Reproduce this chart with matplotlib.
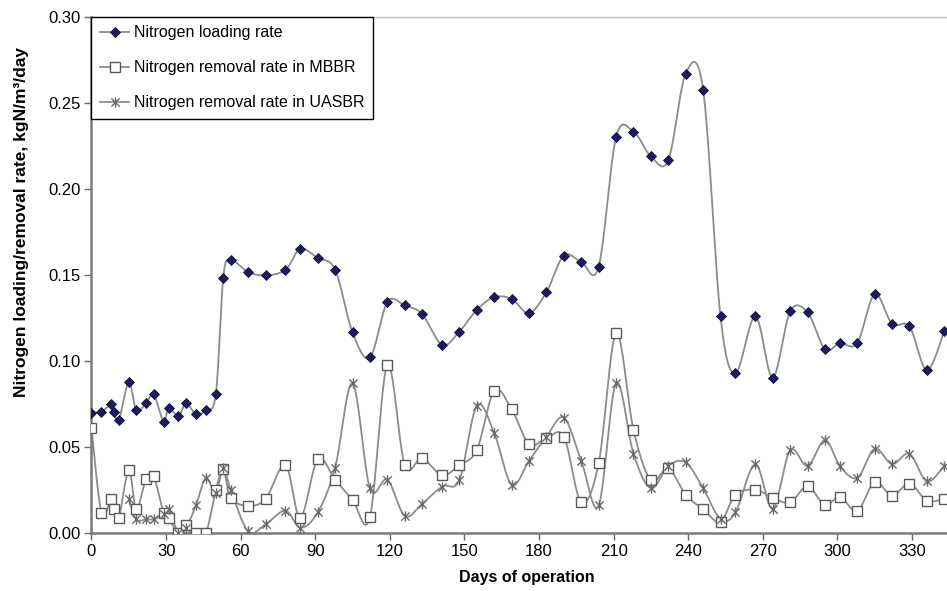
import numpy as np
import matplotlib
matplotlib.use("Agg")
import matplotlib.pyplot as plt
from matplotlib.path import Path
from matplotlib.lines import Line2D

plt.rcParams['font.family'] = ['Liberation Sans', 'DejaVu Sans']

# ---------------- data ----------------
days_load = [0, 4, 8, 9, 11, 15, 18, 22, 25, 29, 31, 35, 38, 42, 46, 50, 53, 56, 63, 70,
             78, 84, 91, 98, 105, 112, 119, 126, 133, 141, 148, 155, 162, 169, 176, 183, 190,
             197, 204, 211, 218, 225, 232, 239, 246, 253, 259, 267, 274, 281, 288, 295, 301,
             308, 315, 322, 329, 336, 343]
load_rate = [0.070, 0.0705, 0.0748, 0.0705, 0.0657, 0.0876, 0.0715, 0.0754, 0.0806, 0.0647,
             0.0725, 0.068, 0.0754, 0.069, 0.0715, 0.0806, 0.1484, 0.1585, 0.1517, 0.1496,
             0.1529, 0.165, 0.1597, 0.1529, 0.1165, 0.102, 0.1341, 0.1322, 0.1271, 0.1093,
             0.117, 0.1297, 0.137, 0.1359, 0.1277, 0.140, 0.1612, 0.1574, 0.1547, 0.230,
             0.2331, 0.2188, 0.2165, 0.2669, 0.2576, 0.1258, 0.0928, 0.1258, 0.0903, 0.1287,
             0.1281, 0.1068, 0.1103, 0.1103, 0.1388, 0.1215, 0.120, 0.0946, 0.1174]

days_mbbr = [0, 4, 8, 9, 11, 15, 18, 22, 25, 29, 31, 35, 38, 42, 46, 50, 53, 56, 63, 70,
             78, 84, 91, 98, 105, 112, 119, 126, 133, 141, 148, 155, 162, 169, 176, 183, 190,
             197, 204, 211, 218, 225, 232, 239, 246, 253, 259, 267, 274, 281, 288, 295, 301,
             308, 315, 322, 329, 336, 343]
mbbr_rate = [0.061, 0.0119, 0.0198, 0.0138, 0.0089, 0.0366, 0.0138, 0.0316, 0.033, 0.0119,
             0.0085, 0.0, 0.0045, 0.0, 0.0, 0.0247, 0.037, 0.0204, 0.0158, 0.0198,
             0.0395, 0.0089, 0.0429, 0.031, 0.0192, 0.0093, 0.0977, 0.0395, 0.0434, 0.0336,
             0.0395, 0.0483, 0.0827, 0.0719, 0.0516, 0.055, 0.056, 0.0178, 0.0405, 0.116,
             0.0599, 0.0306, 0.0375, 0.0223, 0.0138, 0.0065, 0.0223, 0.0251, 0.0204, 0.0178,
             0.0271, 0.0162, 0.0211, 0.0128, 0.0296, 0.0217, 0.0287, 0.0188, 0.0198]

days_uasbr = [15, 18, 22, 25, 29, 31, 35, 38, 42, 46, 50, 53, 56, 63, 70,
              78, 84, 91, 98, 105, 112, 119, 126, 133, 141, 148, 155, 162, 169, 176, 183, 190,
              197, 204, 211, 218, 225, 232, 239, 246, 253, 259, 267, 274, 281, 288, 295, 301,
              308, 315, 322, 329, 336, 343]
uasbr_rate = [0.020, 0.008, 0.008, 0.008, 0.011, 0.014, 0.0, 0.003, 0.016, 0.032,
              0.023, 0.038, 0.025, 0.001, 0.005, 0.013, 0.003, 0.012, 0.038, 0.087,
              0.026, 0.031, 0.010, 0.017, 0.027, 0.031, 0.074, 0.058, 0.028, 0.042,
              0.056, 0.067, 0.042, 0.016, 0.087, 0.046, 0.026, 0.039, 0.041, 0.026,
              0.008, 0.012, 0.040, 0.014, 0.048, 0.039, 0.054, 0.039, 0.032, 0.049,
              0.040, 0.046, 0.030, 0.039]

x_ticks = [0, 30, 60, 90, 120, 150, 180, 210, 240, 270, 300, 330]
y_ticks = [0.00, 0.05, 0.10, 0.15, 0.20, 0.25, 0.30]

labels = ["Nitrogen loading rate",
          "Nitrogen removal rate in MBBR",
          "Nitrogen removal rate in UASBR"]


def smooth(x, y, n=24):
    """Excel-like smoothed line (uniform Catmull-Rom as cubic Bezier)."""
    P = np.column_stack([np.asarray(x, float), np.asarray(y, float)])
    E = np.vstack([P[0], P, P[-1]])
    t = np.linspace(0, 1, n, endpoint=False)[:, None]
    segs = []
    for i in range(len(P) - 1):
        p0, p1, p2, p3 = E[i], E[i + 1], E[i + 2], E[i + 3]
        c1 = p1 + (p2 - p0) / 6.0
        c2 = p2 - (p3 - p1) / 6.0
        b = ((1 - t) ** 3) * p1 + 3 * (1 - t) ** 2 * t * c1 + 3 * (1 - t) * t ** 2 * c2 + t ** 3 * p2
        segs.append(b)
    segs.append(P[-1][None, :])
    A = np.vstack(segs)
    return A[:, 0], A[:, 1]


star = Path([(-1, -1), (1, 1), (-1, 1), (1, -1), (0, -1.25), (0, 1.25)],
            [Path.MOVETO, Path.LINETO, Path.MOVETO, Path.LINETO, Path.MOVETO, Path.LINETO])

line_col = '#8c8c8c'
navy = '#1b1b5e'

fig = plt.figure(figsize=(9.47, 5.91), dpi=100)
ax = fig.add_axes([0.0966, 0.0981, 0.9034, 0.8739])

# smoothed lines
for xs, ys in [(days_load, load_rate), (days_mbbr, mbbr_rate), (days_uasbr, uasbr_rate)]:
    sx, sy = smooth(xs, ys)
    ax.plot(sx, sy, color=line_col, lw=1.3, zorder=2)

# markers
ax.plot(days_load, load_rate, ls='none', marker='D', ms=5.2, mfc=navy, mec='#101040',
        mew=0.6, zorder=4)
ax.plot(days_mbbr, mbbr_rate, ls='none', marker='s', ms=7.0, mfc='white', mec='#5a5a5a',
        mew=1.0, zorder=3)
ax.plot(days_uasbr, uasbr_rate, ls='none', marker=star, ms=7.5, mfc='none', mec='#6a6a6a',
        mew=1.0, zorder=3)

ax.set_xlim(0, 344.1)
ax.set_ylim(0, 0.30)
ax.set_xticks(x_ticks)
ax.set_yticks(y_ticks)
ax.set_yticklabels([f"{v:.2f}" for v in y_ticks])
ax.tick_params(axis='both', direction='out', length=5, width=1.0, color='#6a6a6a',
               labelsize=12, labelcolor='black', pad=3)

for s in ['left', 'bottom']:
    ax.spines[s].set_color('#7a7a7a')
    ax.spines[s].set_linewidth(1.8)
ax.spines['top'].set_color('#bdbdbd')
ax.spines['top'].set_linewidth(1.0)
ax.spines['right'].set_visible(False)

ax.set_xlabel("Days of operation", fontsize=11.5, fontweight='bold')
ax.xaxis.set_label_coords(0.509, -0.071)
ax.set_ylabel("Nitrogen loading/removal rate, kgN/m³/day", fontsize=12.5, fontweight='bold')
ax.yaxis.set_label_coords(-0.073, 0.603)

handles = [
    Line2D([], [], color=line_col, lw=1.3, marker='D', ms=5.2, mfc=navy, mec='#101040', mew=0.6),
    Line2D([], [], color=line_col, lw=1.3, marker='s', ms=7.0, mfc='white', mec='#5a5a5a', mew=1.0),
    Line2D([], [], color=line_col, lw=1.3, marker=star, ms=7.5, mfc='none', mec='#6a6a6a', mew=1.0),
]
leg = ax.legend(handles, labels, loc='upper left', bbox_to_anchor=(0.0, 1.0),
                borderaxespad=0.0, fontsize=11.5, frameon=True, fancybox=False,
                edgecolor='black', framealpha=1.0, handlelength=1.8, handletextpad=0.3,
                labelspacing=1.25, borderpad=0.55)
leg.get_frame().set_linewidth(1.0)

fig.savefig("out.png", dpi=100)
